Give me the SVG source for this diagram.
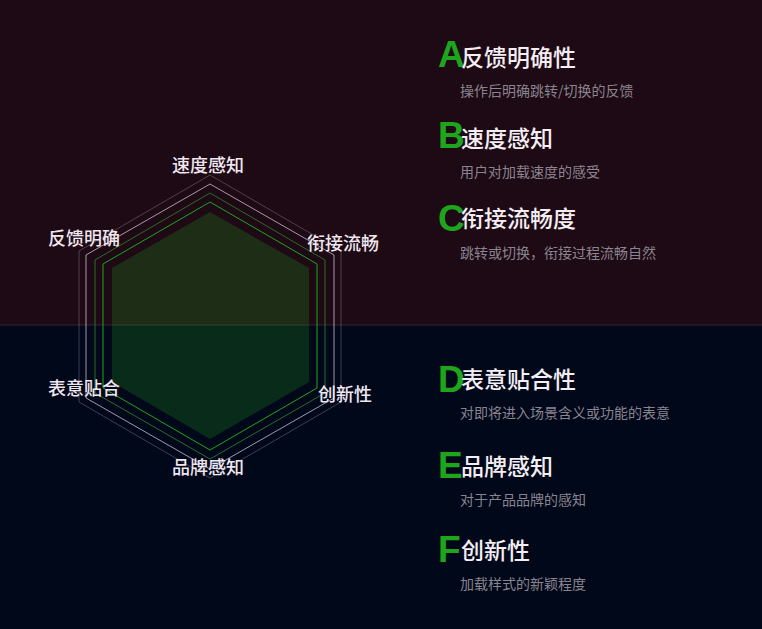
<svg xmlns="http://www.w3.org/2000/svg" width="762" height="629" viewBox="0 0 762 629">
<style>
.lab{font-family:"Noto Sans CJK SC","Noto Sans",sans-serif;font-size:18px;fill:#f0e6f0;text-anchor:middle;font-weight:500}
.let{font-family:"Liberation Sans",Arial,sans-serif;font-size:37px;font-weight:bold;fill:#1fa51c}
.tt{font-family:"Noto Sans CJK SC",sans-serif;font-size:23px;fill:#f4eef4;font-weight:500}
.st{font-family:"Noto Sans CJK SC",sans-serif;font-size:14px;fill:#8a8490}
</style>
<rect width="762" height="325" fill="#1e0a14"/>
<rect y="325" width="762" height="304" fill="#000819"/>
<line x1="0" y1="325" x2="762" y2="325" stroke="#3a2230" stroke-width="1"/>
<g id="radar">
<polygon points="210,175 341,251 341,402 210,478 79,402 79,251" fill="none" stroke="#8a8098" stroke-opacity="0.45" stroke-width="1"/>
<polygon points="210,184 334,255 334,398 210,469 86,398 86,255" fill="none" stroke="#c8bcd0" stroke-opacity="0.8" stroke-width="1"/>
<polygon points="210,193 325,260 325,393 210,459 95,393 95,260" fill="none" stroke="#2e6a2a" stroke-width="1"/>
<polygon points="210,202 317,264 317,388 210,450 103,388 103,264" fill="none" stroke="#1fa51c" stroke-width="1"/>
<polygon points="210,212 309,268 309,382 210,439 112,382 112,268" fill="#1f8a1e" fill-opacity="0.28"/>
</g>
<g id="labels">
<text class="lab" x="208" y="172">速度感知</text>
<text class="lab" x="84" y="245">反馈明确</text>
<text class="lab" x="343" y="250">衔接流畅</text>
<text class="lab" x="84" y="395">表意贴合</text>
<text class="lab" x="345" y="401">创新性</text>
<text class="lab" x="208" y="474">品牌感知</text>
</g>
<g id="A"><text class="let" x="438" y="67">A</text><text class="tt" x="461" y="66">反馈明确性</text><text class="st" x="460" y="96">操作后明确跳转/切换的反馈</text></g>
<g id="B"><text class="let" x="438" y="148">B</text><text class="tt" x="461" y="147">速度感知</text><text class="st" x="460" y="177">用户对加载速度的感受</text></g>
<g id="C"><text class="let" x="438" y="231">C</text><text class="tt" x="461" y="227">衔接流畅度</text><text class="st" x="460" y="258">跳转或切换，衔接过程流畅自然</text></g>
<g id="D"><text class="let" x="438" y="392">D</text><text class="tt" x="461" y="388">表意贴合性</text><text class="st" x="460" y="418">对即将进入场景含义或功能的表意</text></g>
<g id="E"><text class="let" x="438" y="478">E</text><text class="tt" x="461" y="475">品牌感知</text><text class="st" x="460" y="505">对于产品品牌的感知</text></g>
<g id="F"><text class="let" x="438" y="562">F</text><text class="tt" x="461" y="559">创新性</text><text class="st" x="460" y="589">加载样式的新颖程度</text></g>
</svg>
